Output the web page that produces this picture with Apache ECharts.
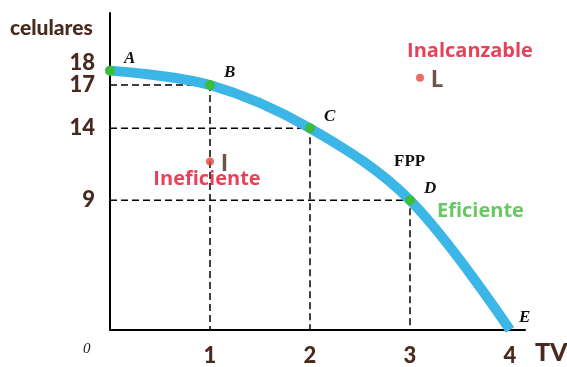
<!DOCTYPE html>
<html>
<head>
<meta charset="utf-8">
<script src="https://cdn.jsdelivr.net/npm/echarts@6/dist/echarts.min.js"></script>
<style>
  html, body { margin: 0; padding: 0; background: #fff; }
  #chart { width: 567px; height: 367px; }
</style>
</head>
<body>
<div id="chart"></div>
<script>
// puntos de la FPP
const puntos = ['A', 'B', 'C', 'D', 'E']
const tv = [0, 1, 2, 3, 4]
const celulares = [18, 17, 14, 9, 0]
const yTicks = [9, 14, 17, 18]
const xTicks = [1, 2, 3, 4]
// puntos fuera de la curva
const puntoI = [1, 11.7]
const puntoL = [3.1, 17.5]

const brown = '#4a2a1e'
const red = '#e3102f'
const green = '#3dbb3a'
const blue = '#3cb6e6'
const boldFont = 'Lato'

let myChart = echarts.init(document.getElementById('chart'))

// lineas punteadas de B, C y D hasta los ejes
const guias = [1, 2, 3].map(i => ({
  type: 'line',
  data: [[0, celulares[i]], [tv[i], celulares[i]], [tv[i], 0]],
  symbol: 'none',
  silent: true,
  lineStyle: { color: '#000', width: 1.5, type: [7, 4] },
  z: 1
}))

let option = {
  animation: false,
  grid: { left: 110, right: 42, top: 13, bottom: 27 },
  xAxis: {
    type: 'value',
    min: 0,
    max: 4.15,
    interval: 1,
    splitLine: { show: false },
    axisTick: { show: false },
    axisLine: { lineStyle: { color: '#000', width: 2 } },
    axisLabel: {
      margin: 15,
      color: brown,
      fontSize: 22,
      fontWeight: 900,
      fontFamily: boldFont,
      formatter: v => xTicks.indexOf(v) >= 0 ? String(v) : ''
    }
  },
  yAxis: {
    type: 'value',
    min: 0,
    max: 22,
    interval: 1,
    splitLine: { show: false },
    axisTick: { show: false },
    axisLine: { lineStyle: { color: '#000', width: 2 } },
    axisLabel: {
      margin: 15,
      color: brown,
      fontSize: 22,
      fontWeight: 900,
      fontFamily: boldFont,
      formatter: v => {
        if (v === 18) return '{up|18}'
        return yTicks.indexOf(v) >= 0 ? String(v) : ''
      },
      rich: {
        up: { color: brown, fontSize: 22, fontWeight: 900, fontFamily: boldFont, padding: [0, 0, 16, 0] }
      }
    }
  },
  graphic: [
    { type: 'text', left: 10, top: 18, style: { text: 'celulares', fill: brown, font: '900 21px "Lato"' } },
    { type: 'text', left: 535, top: 340, style: { text: 'TV', fill: brown, font: '900 25px "Lato"' } },
    { type: 'text', left: 83, top: 342, style: { text: '0', fill: '#222', font: 'italic 15px "Liberation Serif"' } },
    { type: 'text', left: 394, top: 153, style: { text: 'FPP', fill: '#111', font: 'bold 17px "Liberation Serif"' } }
  ],
  series: guias.concat([
    {
      name: 'FPP',
      type: 'line',
      smooth: 0.35,
      data: tv.map((x, i) => ({
        value: [x, celulares[i]],
        name: puntos[i],
        symbolSize: i === 4 ? 0 : 10
      })),
      symbol: 'circle',
      lineStyle: { color: blue, width: 10 },
      itemStyle: { color: green },
      label: {
        show: true,
        position: 'right',
        offset: [4, -12],
        formatter: p => p.name,
        color: '#111',
        fontSize: 17,
        fontStyle: 'italic',
        fontWeight: 'bold',
        fontFamily: 'Liberation Serif'
      },
      z: 3
    },
    {
      type: 'scatter',
      data: [
        { value: puntoI, name: 'I' },
        { value: puntoL, name: 'L' }
      ],
      symbolSize: 8,
      itemStyle: { color: '#e8463e' },
      label: {
        show: true,
        position: 'right',
        offset: [2, 2],
        formatter: p => p.name,
        color: brown,
        fontSize: 23,
        fontWeight: 900,
        fontFamily: boldFont
      },
      z: 4
    },
    {
      type: 'scatter',
      symbolSize: 0,
      silent: true,
      data: [
        { value: puntoI, name: 'Ineficiente', label: { color: red, position: 'bottom', offset: [-3, 3] } },
        { value: puntoL, name: 'Inalcanzable', label: { color: red, position: 'top', offset: [50, -12] } },
        { value: [tv[3], celulares[3]], name: 'Eficiente', label: { color: green, position: 'right', offset: [22, 11] } }
      ],
      label: {
        show: true,
        formatter: p => p.name,
        fontSize: 20,
        fontWeight: 'bold',
        fontFamily: 'Open Sans'
      },
      z: 5
    }
  ])
}
myChart.setOption(option)
</script>
</body>
</html>
